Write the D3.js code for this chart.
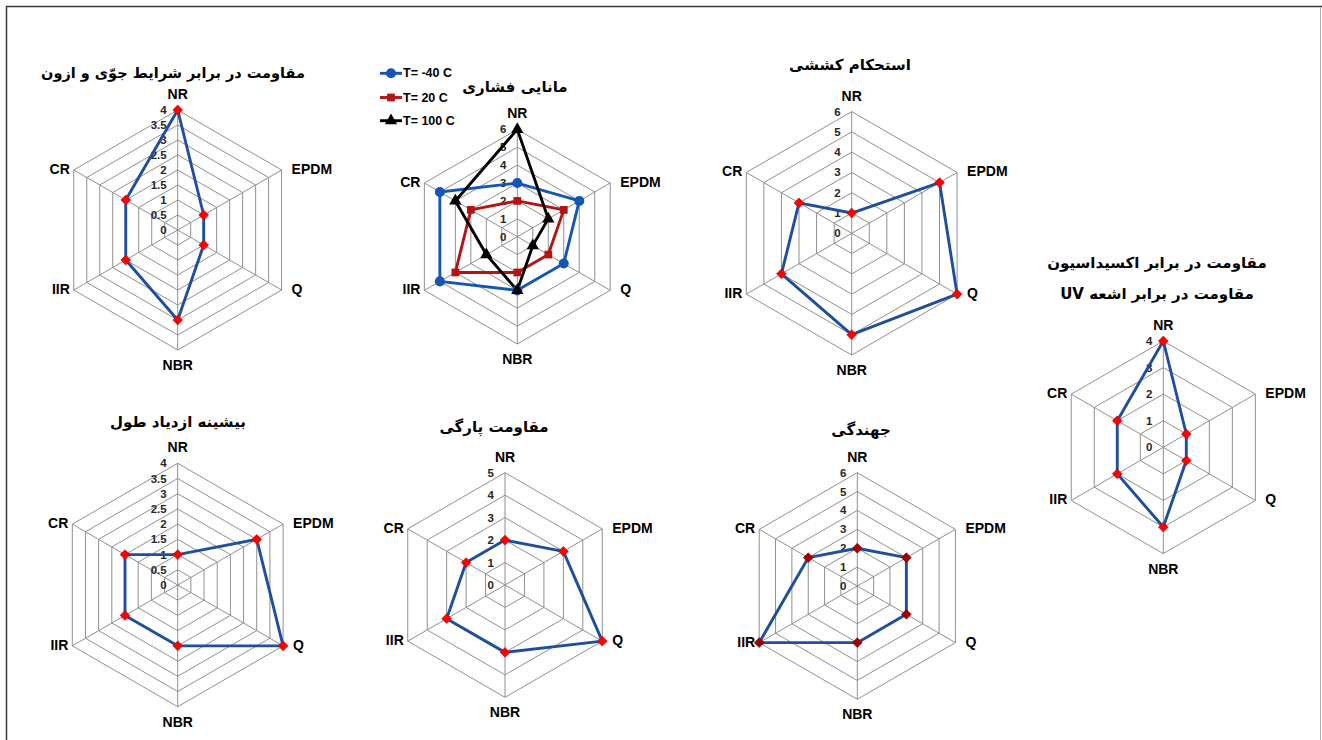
<!DOCTYPE html>
<html>
<head>
<meta charset="utf-8">
<script src="https://cdn.jsdelivr.net/npm/d3@7"></script>
<style>
  html, body { margin: 0; padding: 0; background: #fff; }
  svg { display: block; }
</style>
</head>
<body>
<svg id="chart" width="1322" height="740"></svg>
<script>
// ---------------- DATA ----------------
const categories = ["NR", "EPDM", "Q", "NBR", "IIR", "CR"];

const weatherOzone   = [4, 1, 1, 3, 2, 2];
const compSetM40     = [3, 4, 3, 3, 5, 5];
const compSet20      = [2, 3, 2, 2, 4, 3];
const compSet100     = [6, 2, 1, 3, 2, 4];
const tensile        = [1, 5, 6, 5, 4, 3];
const oxidationUV    = [4, 1, 1, 3, 2, 2];
const elongation     = [1, 3, 4, 2, 2, 2];
const tearResistance = [2, 3, 5, 3, 3, 2];
const resilience     = [2, 3, 3, 3, 6, 3];

const legendLabels = ["T= -40 C", "T= 20 C", "T= 100 C"];

const ticksHalf4 = ["0", "0.5", "1", "1.5", "2", "2.5", "3", "3.5", "4"];
const ticks6     = ["0", "1", "2", "3", "4", "5", "6"];
const ticks5     = ["0", "1", "2", "3", "4", "5"];
const ticks4     = ["0", "1", "2", "3", "4"];

const titleWeather    = ["مقاومت در برابر شرایط جوّی و ازون"];
const titleCompSet    = ["مانایی فشاری"];
const titleTensile    = ["استحکام کششی"];
const titleOxidation  = ["مقاومت در برابر اکسیداسیون", "مقاومت در برابر اشعه UV"];
const titleElongation = ["بیشینه ازدیاد طول"];
const titleTear       = ["مقاومت پارگی"];
const titleResilience = ["جهندگی"];

// ---------------- STYLE / LAYOUT ----------------
const BLUE = "#1f4e9e";
const svg = d3.select("#chart");
const latinFont = "'Liberation Sans', Arial, sans-serif";
const persianFont = "'DejaVu Sans', sans-serif";

// border
svg.append("line").attr("x1", 6).attr("y1", 6.5).attr("x2", 1322).attr("y2", 6.5)
  .attr("stroke", "#3a3a3a").attr("stroke-width", 1.5);
svg.append("line").attr("x1", 6.5).attr("y1", 6).attr("x2", 6.5).attr("y2", 740)
  .attr("stroke", "#3a3a3a").attr("stroke-width", 1.5);
svg.append("line").attr("x1", 1320.5).attr("y1", 7).attr("x2", 1320.5).attr("y2", 740)
  .attr("stroke", "#b0b0b0").attr("stroke-width", 1);

const charts = [
  { title: titleWeather, titleX: 173, titleY: 73, titleSize: 14.5, ticks: ticksHalf4, cx: 177.7, cy: 230, R: 120,
    series: [{ values: weatherOzone, color: BLUE, marker: "diamond", mcolor: "#ff0000" }] },
  { title: titleCompSet, titleX: 515, titleY: 87, ticks: ticks6, cx: 517.3, cy: 236.7, R: 107.3,
    series: [
      { values: compSetM40, color: "#1456b4", marker: "circle", mcolor: "#1456b4" },
      { values: compSet20,  color: "#b41414", marker: "square", mcolor: "#b41414" },
      { values: compSet100, color: "#000000", marker: "triangle", mcolor: "#000000" }
    ], legend: true },
  { title: titleTensile, titleX: 850, titleY: 65, ticks: ticks6, cx: 851.7, cy: 233.3, R: 121.7,
    series: [{ values: tensile, color: BLUE, marker: "diamond", mcolor: "#ff0000" }] },
  { title: titleOxidation, titleX: 1157, titleY: 263, lineGap: 31, ticks: ticks4, cx: 1163.3, cy: 447.3, R: 106.3,
    series: [{ values: oxidationUV, color: BLUE, marker: "diamond", mcolor: "#ff0000" }] },
  { title: titleElongation, titleX: 178, titleY: 422, ticks: ticksHalf4, cx: 177.7, cy: 585, R: 121.7,
    series: [{ values: elongation, color: BLUE, marker: "diamond", mcolor: "#ff0000" }] },
  { title: titleTear, titleX: 494, titleY: 427, ticks: ticks5, cx: 505, cy: 585, R: 112.3,
    series: [{ values: tearResistance, color: BLUE, marker: "diamond", mcolor: "#ff0000" }] },
  { title: titleResilience, titleX: 861, titleY: 430, ticks: ticks6, cx: 857.3, cy: 586, R: 113.3,
    series: [{ values: resilience, color: BLUE, marker: "diamond", mcolor: "#a00000" }] }
];

const n = categories.length;
const angleScale = d3.scaleLinear().domain([0, n]).range([0, 2 * Math.PI]);

function markerPath(type) {
  if (type === "circle") return d3.symbol(d3.symbolCircle, 80)();
  if (type === "square") return d3.symbol(d3.symbolSquare, 60)();
  if (type === "triangle") return d3.symbol(d3.symbolTriangle, 66)();
  return d3.symbol(d3.symbolSquare, 48)();
}

charts.forEach(ch => {
  const maxV = +ch.ticks[ch.ticks.length - 1];
  const r = d3.scaleLinear().domain([0, maxV]).range([0, ch.R]);
  const g = svg.append("g").attr("transform", `translate(${ch.cx},${ch.cy})`);
  const pt = (i, v) => [r(v) * Math.sin(angleScale(i)), -r(v) * Math.cos(angleScale(i))];

  // rings
  ch.ticks.forEach(t => {
    const v = +t;
    if (v <= 0) return;
    const ring = d3.lineRadial()
      .angle((d, i) => angleScale(i))
      .radius(() => r(v))
      .curve(d3.curveLinearClosed);
    g.append("path").attr("d", ring(categories))
      .attr("fill", "none").attr("stroke", "#8f8f8f").attr("stroke-width", 1);
  });
  // spokes
  categories.forEach((c, i) => {
    const [x, y] = pt(i, maxV);
    g.append("line").attr("x1", 0).attr("y1", 0).attr("x2", x).attr("y2", y)
      .attr("stroke", "#8f8f8f").attr("stroke-width", 1);
  });
  // tick labels
  ch.ticks.forEach(t => {
    g.append("text").attr("x", -11).attr("y", -r(+t))
      .attr("text-anchor", "end").attr("dominant-baseline", "central")
      .attr("font-family", latinFont).attr("font-size", 11.5).attr("font-weight", "bold")
      .attr("fill", "#262626").text(t);
  });
  // category labels
  categories.forEach((c, i) => {
    const [x, y] = pt(i, maxV);
    let tx = x, ty = y, anchor = "middle";
    if (i === 0) { ty = y - 16; }
    else if (i === 3) { ty = y + 15; }
    else if (i === 1 || i === 2) { tx = x + 10; anchor = "start"; ty = y - 1; }
    else { tx = x - 4; anchor = "end"; ty = y - 1; }
    g.append("text").attr("x", tx).attr("y", ty)
      .attr("text-anchor", anchor).attr("dominant-baseline", "central")
      .attr("font-family", latinFont).attr("font-size", 14).attr("font-weight", "bold")
      .attr("fill", "#000").text(c);
  });
  // series
  ch.series.forEach(s => {
    const line = d3.lineRadial()
      .angle((d, i) => angleScale(i))
      .radius(d => r(d))
      .curve(d3.curveLinearClosed);
    g.append("path").attr("d", line(s.values))
      .attr("fill", "none").attr("stroke", s.color).attr("stroke-width", 2.9)
      .attr("stroke-linejoin", "round");
  });
  ch.series.forEach(s => {
    s.values.forEach((v, i) => {
      const [x, y] = pt(i, v);
      const rot = s.marker === "diamond" ? 45 : 0;
      g.append("path").attr("d", markerPath(s.marker))
        .attr("transform", `translate(${x},${y}) rotate(${rot})`)
        .attr("fill", s.mcolor)
        .attr("stroke", s.marker === "diamond" ? d3.color(s.mcolor).darker(0.6) : "none")
        .attr("stroke-width", 0.6);
    });
  });
  // title
  ch.title.forEach((line, k) => {
    svg.append("text").attr("x", ch.titleX).attr("y", ch.titleY + k * (ch.lineGap || 0))
      .attr("text-anchor", "middle").attr("dominant-baseline", "central")
      .attr("direction", "rtl").attr("unicode-bidi", "embed")
      .attr("font-family", persianFont).attr("font-size", ch.titleSize || 15).attr("font-weight", "bold")
      .attr("fill", "#000").text(line);
  });
  // legend
  if (ch.legend) {
    const ly = [73.3, 97.5, 120.7];
    ch.series.forEach((s, k) => {
      const lg = svg.append("g").attr("transform", `translate(380,${ly[k]})`);
      lg.append("line").attr("x1", 0).attr("x2", 22).attr("y1", 0).attr("y2", 0)
        .attr("stroke", s.color).attr("stroke-width", 2.9);
      lg.append("path").attr("d", markerPath(s.marker)).attr("transform", "translate(11,0)")
        .attr("fill", s.mcolor);
      lg.append("text").attr("x", 23).attr("y", 0).attr("dominant-baseline", "central")
        .attr("font-family", latinFont).attr("font-size", 12.5).attr("font-weight", "bold")
        .attr("fill", "#000").text(legendLabels[k]);
    });
  }
});
</script>
</body>
</html>
